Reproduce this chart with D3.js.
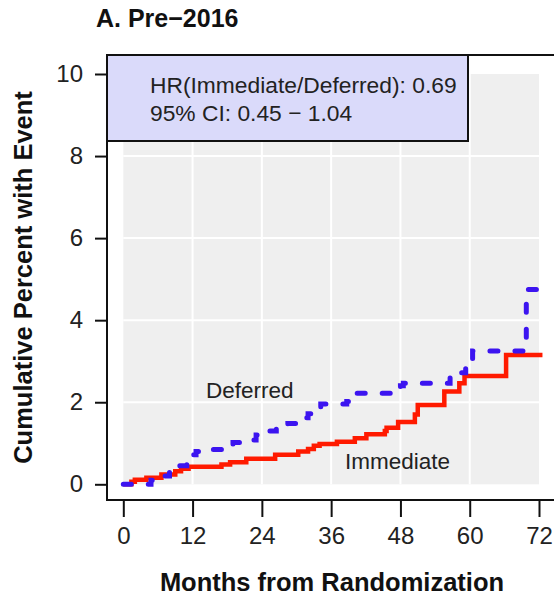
<!DOCTYPE html>
<html>
<head>
<meta charset="utf-8">
<script src="https://cdn.jsdelivr.net/npm/d3@7"></script>
<style>
  body { margin: 0; background: #fff; }
  svg { font-family: "Liberation Sans", Arial, sans-serif; }
</style>
</head>
<body>
<svg id="chart" width="554" height="599"></svg>
<script>
// cumulative percent with event
var immediateMonths = [0, 1.4, 2, 4, 6.6, 9, 10, 11.3, 17, 18.5, 21.3, 26.3, 30.3, 32, 33, 34, 37, 40.1, 42.1, 45.3, 45.6, 47.6, 50.5, 51, 55.6, 58.2, 59.1, 66.3, 72.6];
var immediatePct = [0, 0.06, 0.11, 0.16, 0.24, 0.32, 0.38, 0.43, 0.48, 0.54, 0.62, 0.72, 0.8, 0.86, 0.94, 0.98, 1.04, 1.12, 1.22, 1.3, 1.38, 1.52, 1.7, 1.93, 2.26, 2.46, 2.64, 3.15, 3.15];

var deferredMonths = [0, 4.8, 5.5, 8, 8.7, 9.2, 11, 12, 12.6, 14, 17.5, 19, 20.5, 23, 24.3, 26.5, 28.5, 30.5, 32, 33.5, 34.2, 38.7, 39.4, 40, 47.3, 48, 48.5, 56.6, 57, 59.3, 59.7, 60.5, 69.8, 72.3];
var deferredPct = [0, 0.1, 0.2, 0.3, 0.4, 0.45, 0.62, 0.72, 0.8, 0.85, 0.95, 1.02, 1.08, 1.2, 1.3, 1.42, 1.48, 1.62, 1.72, 1.85, 1.96, 2.02, 2.12, 2.22, 2.3, 2.4, 2.46, 2.6, 2.72, 2.9, 3.05, 3.25, 4.75, 4.75];

var xTicks = [0, 12, 24, 36, 48, 60, 72];
var yTicks = [0, 2, 4, 6, 8, 10];
var legendLines = ["HR(Immediate/Deferred): 0.69", "95% CI: 0.45 \u2212 1.04"];

var svg = d3.select("#chart");

var box = { left: 107, right: 557, top: 55, bottom: 500 };

var x = d3.scaleLinear().domain([0, 72]).range([123.3, 539]);
var y = d3.scaleLinear().domain([0, 10]).range([484.3, 74]);

// gray panel
svg.append("rect")
  .attr("x", x(0)).attr("y", y(10))
  .attr("width", x(72) - x(0)).attr("height", y(0) - y(10))
  .attr("fill", "#efefef");

// white grid
svg.selectAll(".vgrid").data(xTicks.slice(1, -1)).enter().append("line")
  .attr("x1", d => x(d)).attr("x2", d => x(d))
  .attr("y1", y(10)).attr("y2", y(0))
  .attr("stroke", "#fff").attr("stroke-width", 2);
svg.selectAll(".hgrid").data(yTicks.slice(1, -1)).enter().append("line")
  .attr("x1", x(0)).attr("x2", x(72))
  .attr("y1", d => y(d)).attr("y2", d => y(d))
  .attr("stroke", "#fff").attr("stroke-width", 2);

// curves
var line = d3.line()
  .x(d => x(d[0]))
  .y(d => y(d[1]))
  .curve(d3.curveStepAfter);

var immData = immediateMonths.map((m, i) => [m, immediatePct[i]]);
var defData = deferredMonths.map((m, i) => [m, deferredPct[i]]);

svg.append("path")
  .datum(immData)
  .attr("d", line)
  .attr("fill", "none")
  .attr("stroke", "#ff1a00")
  .attr("stroke-width", 4.5);

svg.append("path")
  .datum(defData)
  .attr("d", line)
  .attr("fill", "none")
  .attr("stroke", "#3c14f0")
  .attr("stroke-width", 5)
  .attr("stroke-linecap", "round")
  .attr("stroke-dasharray", "8,17");

// curve labels
svg.append("text").attr("x", 206).attr("y", 398)
  .attr("font-size", 22.5).attr("fill", "#222").text("Deferred");
svg.append("text").attr("x", 345).attr("y", 469)
  .attr("font-size", 22.5).attr("fill", "#222").text("Immediate");

// legend box
svg.append("rect")
  .attr("x", box.left).attr("y", box.top)
  .attr("width", 361).attr("height", 86)
  .attr("fill", "#dadafa").attr("stroke", "#111").attr("stroke-width", 2);
svg.selectAll(".leg").data(legendLines).enter().append("text")
  .attr("x", 150).attr("y", (d, i) => 93 + i * 28)
  .attr("font-size", 22.8).attr("fill", "#222")
  .text(d => d);

// plot frame
svg.append("rect")
  .attr("x", box.left).attr("y", box.top)
  .attr("width", box.right - box.left).attr("height", box.bottom - box.top)
  .attr("fill", "none").attr("stroke", "#111").attr("stroke-width", 2);

// axes
var xAxis = svg.append("g")
  .attr("transform", "translate(0," + box.bottom + ")")
  .call(d3.axisBottom(x).tickValues(xTicks).tickSize(17).tickPadding(10));
var yAxis = svg.append("g")
  .attr("transform", "translate(" + box.left + ",0)")
  .call(d3.axisLeft(y).tickValues(yTicks).tickSize(12).tickPadding(12));

[xAxis, yAxis].forEach(function (g) {
  g.select(".domain").remove();
  g.selectAll(".tick line").attr("stroke", "#111").attr("stroke-width", 2);
  g.selectAll(".tick text")
    .attr("font-size", 24).attr("fill", "#222")
    .style("font-family", "'Liberation Sans', Arial, sans-serif");
});

// titles
svg.append("text").attr("x", 96).attr("y", 27)
  .attr("font-size", 25).attr("font-weight", "bold").attr("fill", "#111")
  .text("A. Pre\u22122016");

svg.append("text")
  .attr("x", (box.left + box.right) / 2).attr("y", 591)
  .attr("text-anchor", "middle")
  .attr("font-size", 25.5).attr("font-weight", "bold").attr("fill", "#111")
  .text("Months from Randomization");

svg.append("text")
  .attr("transform", "translate(32," + (box.top + box.bottom) / 2 + ") rotate(-90)")
  .attr("text-anchor", "middle")
  .attr("font-size", 25.5).attr("font-weight", "bold").attr("fill", "#111")
  .text("Cumulative Percent with Event");
</script>
</body>
</html>
